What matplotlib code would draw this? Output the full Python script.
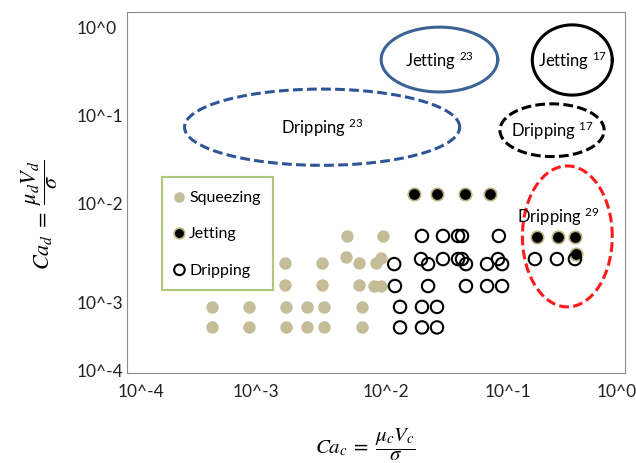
import numpy as np
import matplotlib
matplotlib.use('Agg')
import matplotlib.pyplot as plt
from matplotlib.transforms import ScaledTranslation

plt.rcParams['font.family'] = ['Lato', 'DejaVu Sans']
plt.rcParams['mathtext.fontset'] = 'custom'
plt.rcParams['mathtext.rm'] = 'Lato'
plt.rcParams['mathtext.it'] = 'Lato:italic'

# capillary numbers of the present runs (Ca_c, Ca_d)
squeeze_cac = [5.8e-3, 1.14e-2, 5.7e-3, 1.10e-2,
               1.86e-3, 3.7e-3, 7.3e-3, 1.0e-2,
               1.86e-3, 3.7e-3, 7.3e-3, 9.6e-3, 1.1e-2,
               4.8e-4, 9.5e-4, 1.9e-3, 2.8e-3, 3.8e-3, 7.7e-3,
               4.8e-4, 9.5e-4, 1.9e-3, 2.8e-3, 3.8e-3, 7.7e-3]
squeeze_cad = [3.3e-3, 3.3e-3, 1.93e-3, 1.88e-3,
               1.66e-3, 1.66e-3, 1.66e-3, 1.66e-3,
               9.4e-4, 9.4e-4, 9.4e-4, 9.2e-4, 9.2e-4,
               5.4e-4, 5.4e-4, 5.4e-4, 5.4e-4, 5.4e-4, 5.4e-4,
               3.2e-4, 3.2e-4, 3.2e-4, 3.2e-4, 3.2e-4, 3.2e-4]

jet_cac = [2.02e-2, 3.09e-2, 5.19e-2, 8.24e-2, 0.196, 0.290, 0.396, 0.404]
jet_cad = [9.6e-3, 9.6e-3, 9.6e-3, 9.6e-3, 3.2e-3, 3.2e-3, 3.2e-3, 2.08e-3]

drip_cac = [2.34e-2, 3.45e-2, 4.56e-2, 4.91e-2, 9.7e-2,
            2.30e-2, 3.45e-2, 4.56e-2, 4.91e-2, 9.55e-2,
            1.40e-2, 2.62e-2, 5.28e-2, 7.80e-2, 0.103,
            1.42e-2, 2.62e-2, 5.28e-2, 7.80e-2, 0.103,
            1.56e-2, 2.34e-2, 3.09e-2,
            1.56e-2, 2.34e-2, 3.09e-2,
            0.189, 0.284, 0.396]
drip_cad = [3.3e-3] * 5 + [1.83e-3] * 5 + [1.61e-3] * 5 + [9.2e-4] * 5 + \
           [5.4e-4] * 3 + [3.2e-4] * 3 + [1.83e-3] * 3

# regimes reported in the literature: label, ref, Ca_c range, Ca_d range
regions = [
    ('Jetting', '23', (0.011, 0.095), (0.13, 0.68)),
    ('Jetting', '17', (0.18, 0.79), (0.12, 0.72)),
    ('Dripping', '23', (2.9e-4, 0.047), (0.020, 0.14)),
    ('Dripping', '17', (0.099, 0.68), (0.025, 0.096)),
    ('Dripping', '29', (0.15, 0.79), (5.4e-4, 0.0197)),
]
region_colors = ['#3B6496', 'black', '#2F5597', 'black', '#FF1A1A']
region_dashed = [False, False, True, True, True]
label_pos = [None, None, None, None, (0.29, 5.5e-3)]

ticks = [1e-4, 1e-3, 1e-2, 1e-1, 1e0]
tick_labels = ['10^-4', '10^-3', '10^-2', '10^-1', '10^0']
# hand nudges of the tick texts, in pixels (right, down)
xlab_shift = [14, 5, 10, 7, -8]
ylab_shift = [-3, 19, 10, 12, 15]

fig = plt.figure(figsize=(6.36, 4.64), dpi=100)
ax = fig.add_axes([127 / 636, 90 / 464, 498 / 636, 361 / 464])
ax.set_xscale('log')
ax.set_yscale('log')
ax.set_xlim(1e-4, 1e0)
ax.set_ylim(1e-4, 1e0)

t = np.linspace(0, 2 * np.pi, 300)
for (name, ref, xr, yr), col, dashed, pos in zip(regions, region_colors, region_dashed, label_pos):
    lx = np.log10(xr)
    ly = np.log10(yr)
    cx, cy = lx.mean(), ly.mean()
    a, b = (lx[1] - lx[0]) / 2, (ly[1] - ly[0]) / 2
    ls = (0, (3.2, 1.4)) if dashed else '-'
    ax.plot(10 ** (cx + a * np.cos(t)), 10 ** (cy + b * np.sin(t)),
            color=col, lw=2.2, ls=ls, zorder=2)
    if pos is None:
        pos = (10 ** cx, 10 ** cy)
    ax.text(pos[0], pos[1], name + r' $^{' + ref + '}$', fontsize=12,
            ha='center', va='center', zorder=3)

ax.scatter(squeeze_cac, squeeze_cad, s=80, color='#C4BD97', lw=0,
           label='Squeezing', zorder=4)
ax.scatter(jet_cac, jet_cad, s=80, facecolor='black', edgecolor='#BDB27F',
           lw=1.2, label='Jetting', zorder=5)
ax.scatter(drip_cac, drip_cad, s=80, facecolor='none', edgecolor='black',
           lw=1.5, label='Dripping', zorder=6)

ax.set_xticks(ticks)
ax.set_xticklabels(tick_labels)
ax.set_yticks(ticks)
ax.set_yticklabels(tick_labels, ha='left')
ax.minorticks_off()
ax.tick_params(length=0, labelsize=12.5, labelcolor='#222222')
ax.tick_params(axis='x', pad=7)
ax.tick_params(axis='y', pad=36)
for lab, dx in zip(ax.get_xticklabels(), xlab_shift):
    lab.set_transform(lab.get_transform() + ScaledTranslation(dx / 100, 0, fig.dpi_scale_trans))
for lab, dy in zip(ax.get_yticklabels(), ylab_shift):
    lab.set_transform(lab.get_transform() + ScaledTranslation(0, -dy / 100, fig.dpi_scale_trans))
for sp in ax.spines.values():
    sp.set_color('#8C8C8C')

leg = ax.legend(loc='upper left', bbox_to_anchor=(0.07, 0.543), borderaxespad=0,
                fontsize=11.5, handlelength=0.6, handletextpad=0.3,
                labelspacing=1.4, borderpad=0.8, fancybox=False,
                edgecolor='#9BBB59', markerscale=0.85)
leg.get_frame().set_linewidth(1.5)

fig.text(365 / 636, 1 / 464, r'$Ca_c\;=\;\dfrac{\mu_c V_c}{\sigma}$',
         math_fontfamily='stix', fontsize=15, ha='center', va='bottom')
fig.text(40 / 636, 1 - 215 / 464, r'$Ca_d\;=\;\dfrac{\mu_d V_d}{\sigma}$',
         math_fontfamily='stix', fontsize=16, ha='center', va='center',
         rotation=90)

fig.savefig('out.png', dpi=100)
